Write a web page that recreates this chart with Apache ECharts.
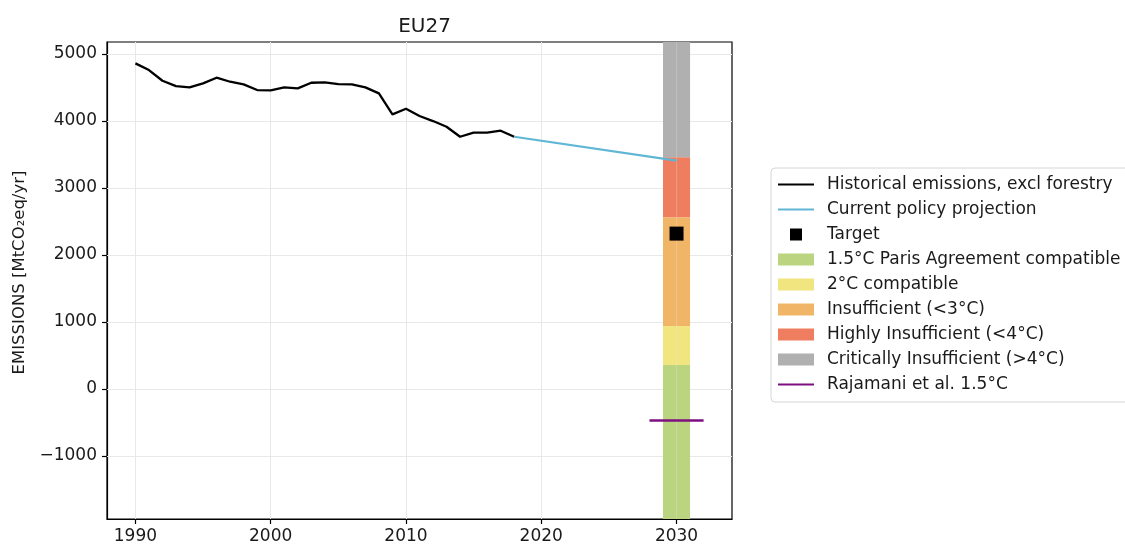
<!DOCTYPE html>
<html>
<head>
<meta charset="utf-8">
<title>EU27 emissions</title>
<script src="https://cdn.jsdelivr.net/npm/echarts@6/dist/echarts.min.js"></script>
<style>
  html, body { margin: 0; padding: 0; background: #fff; }
  #chart { width: 1125px; height: 546px; }
</style>
</head>
<body>
<div id="chart"></div>
<script>
// Historical emissions excluding forestry (MtCO2eq/yr)
const histYears = [1990, 1991, 1992, 1993, 1994, 1995, 1996, 1997, 1998, 1999,
  2000, 2001, 2002, 2003, 2004, 2005, 2006, 2007, 2008, 2009,
  2010, 2011, 2012, 2013, 2014, 2015, 2016, 2017, 2018];
const histValues = [4861, 4761, 4602, 4522, 4502, 4562, 4647, 4587, 4547, 4463,
  4458, 4502, 4488, 4572, 4577, 4552, 4547, 4502, 4413, 4100,
  4184, 4075, 4000, 3915, 3766, 3826, 3826, 3856, 3766];

// Current policy projection
const policyYears = [2018, 2030];
const policyValues = [3766, 3410];

// 2030 target
const targetYear = 2030;
const targetValue = 2320;

// Rating band edges for 2030 (bottom to top) and the year span they cover
const bandYears = [2029, 2031];
const bandEdges = [-1940, 358, 940, 2565, 3460, 5180];
const bandNames = [
  '1.5°C Paris Agreement compatible',
  '2°C compatible',
  'Insufficient (<3°C)',
  'Highly Insufficient (<4°C)',
  'Critically Insufficient (>4°C)'
];
const bandColors = ['#bad480', '#f1e580', '#f1b568', '#ef7d60', '#b1b0b0'];

// Rajamani et al. 1.5°C level
const rajamaniYears = [2028, 2032];
const rajamaniValue = -470;

// Axis ticks
const xTicks = [1990, 2000, 2010, 2020, 2030];
const yTicks = [-1000, 0, 1000, 2000, 3000, 4000, 5000];
const xRange = [1987.9, 2034.1];
const yRange = [-1940, 5180];

const FONT = 'DejaVu Sans';
const TEXT = '#1a1a1a';
const LINE_ICON = 'path://M0,0L36,0L36,2.2L0,2.2Z';

const chart = echarts.init(document.getElementById('chart'), null, { renderer: 'canvas' });

// Each rating band is a rectangle spanning bandYears between two edges.
// It is drawn as two halves, which leaves the thin seam at the centre year.
const bandSeries = bandNames.map((name, i) => ({
  name: name,
  type: 'custom',
  z: 3,
  clip: true,
  silent: true,
  itemStyle: { color: bandColors[i] },
  encode: { x: [0, 1], y: [2, 3] },
  data: [[bandYears[0], bandYears[1], bandEdges[i], bandEdges[i + 1]]],
  renderItem: function (params, api) {
    const x0 = api.value(0), x1 = api.value(1), xm = (x0 + x1) / 2;
    const pA = api.coord([x0, api.value(2)]);
    const pM = api.coord([xm, api.value(3)]);
    const pB = api.coord([x1, api.value(3)]);
    const style = { fill: bandColors[i] };
    return {
      type: 'group',
      children: [
        { type: 'rect', shape: { x: pA[0], y: pB[1], width: pM[0] - pA[0] - 0.5, height: pA[1] - pB[1] }, style: style },
        { type: 'rect', shape: { x: pM[0] + 0.5, y: pB[1], width: pB[0] - pM[0] - 0.5, height: pA[1] - pB[1] }, style: style },
        { type: 'rect', shape: { x: pM[0] - 0.5, y: pB[1], width: 1, height: pA[1] - pB[1] }, style: { fill: bandColors[i], opacity: 0.75 } }
      ]
    };
  }
}));

const option = {
  animation: false,
  backgroundColor: '#ffffff',
  title: {
    text: 'EU27',
    left: 419.5,
    textAlign: 'center',
    top: 12,
    textStyle: { fontFamily: FONT, fontSize: 20, fontWeight: 'normal', color: TEXT }
  },
  grid: {
    left: 107, right: 393, top: 42, bottom: 27,
    show: true, borderColor: '#000', borderWidth: 1.2, backgroundColor: 'transparent'
  },
  xAxis: {
    type: 'value',
    min: xRange[0], max: xRange[1],
    axisLine: { show: true, onZero: false, lineStyle: { color: '#000', width: 1.2 } },
    axisTick: { show: true, customValues: xTicks, length: 5, lineStyle: { color: '#000', width: 1.2 } },
    axisLabel: {
      customValues: xTicks, margin: 9,
      fontFamily: FONT, fontSize: 17, color: TEXT,
      formatter: v => String(Math.round(v))
    },
    splitLine: { show: false }
  },
  yAxis: {
    type: 'value',
    min: yRange[0], max: yRange[1],
    name: 'EMISSIONS [MtCO₂eq/yr]',
    nameLocation: 'middle',
    nameGap: 78,
    nameTextStyle: { fontFamily: FONT, fontSize: 16.5, color: TEXT, padding: [0, 0, 0, 16] },
    axisLine: { show: true, onZero: false, lineStyle: { color: '#000', width: 1.2 } },
    axisTick: { show: true, customValues: yTicks, length: 5, lineStyle: { color: '#000', width: 1.2 } },
    axisLabel: {
      customValues: yTicks, margin: 10,
      fontFamily: FONT, fontSize: 17, color: TEXT,
      formatter: v => (v < 0 ? '\u2212' + Math.abs(v) : String(v))
    },
    splitLine: { show: false }
  },
  legend: {
    orient: 'vertical',
    left: 771, top: 168,
    itemWidth: 36, itemHeight: 12, itemGap: 8,
    padding: [8, 60, 9, 7],
    borderColor: '#d6d6d6', borderWidth: 1, borderRadius: 4,
    backgroundColor: '#fff',
    selectedMode: false,
    textStyle: { fontFamily: FONT, fontSize: 17, color: TEXT, padding: [0, 0, 0, 8] },
    data: [
      { name: 'Historical emissions, excl forestry', icon: LINE_ICON },
      { name: 'Current policy projection', icon: LINE_ICON },
      { name: 'Target', icon: 'path://M0,0L10,0L10,10L0,10Z' },
      ...bandNames.map(n => ({ name: n, icon: 'rect' })),
      { name: 'Rajamani et al. 1.5°C', icon: LINE_ICON }
    ]
  },
  series: [
    {
      // light grid lines at the tick positions
      name: 'grid',
      type: 'line',
      z: 1,
      silent: true,
      symbol: 'none',
      lineStyle: { opacity: 0 },
      data: [[xTicks[0], yTicks[0]]],
      markLine: {
        z: 1,
        silent: true,
        symbol: ['none', 'none'],
        label: { show: false },
        lineStyle: { color: '#e8e8e8', width: 1, type: 'solid' },
        data: xTicks.map(v => ({ xAxis: v })).concat(yTicks.map(v => ({ yAxis: v })))
      }
    },
    ...bandSeries,
    {
      name: 'Historical emissions, excl forestry',
      type: 'line',
      z: 5,
      symbol: 'none',
      lineStyle: { color: '#000', width: 2.3 },
      itemStyle: { color: '#000' },
      data: histYears.map((y, i) => [y, histValues[i]])
    },
    {
      name: 'Current policy projection',
      type: 'line',
      z: 5,
      symbol: 'none',
      lineStyle: { color: '#5fb6d5', width: 2.2 },
      itemStyle: { color: '#5fb6d5' },
      data: policyYears.map((y, i) => [y, policyValues[i]])
    },
    {
      name: 'Target',
      type: 'scatter',
      z: 6,
      symbol: 'rect',
      symbolSize: 14,
      itemStyle: { color: '#000', opacity: 1 },
      data: [[targetYear, targetValue]]
    },
    {
      name: 'Rajamani et al. 1.5°C',
      type: 'line',
      z: 6,
      symbol: 'none',
      lineStyle: { color: '#7e0f80', width: 2.6 },
      itemStyle: { color: '#7e0f80' },
      data: rajamaniYears.map(y => [y, rajamaniValue])
    }
  ]
};

chart.setOption(option);
</script>
</body>
</html>
